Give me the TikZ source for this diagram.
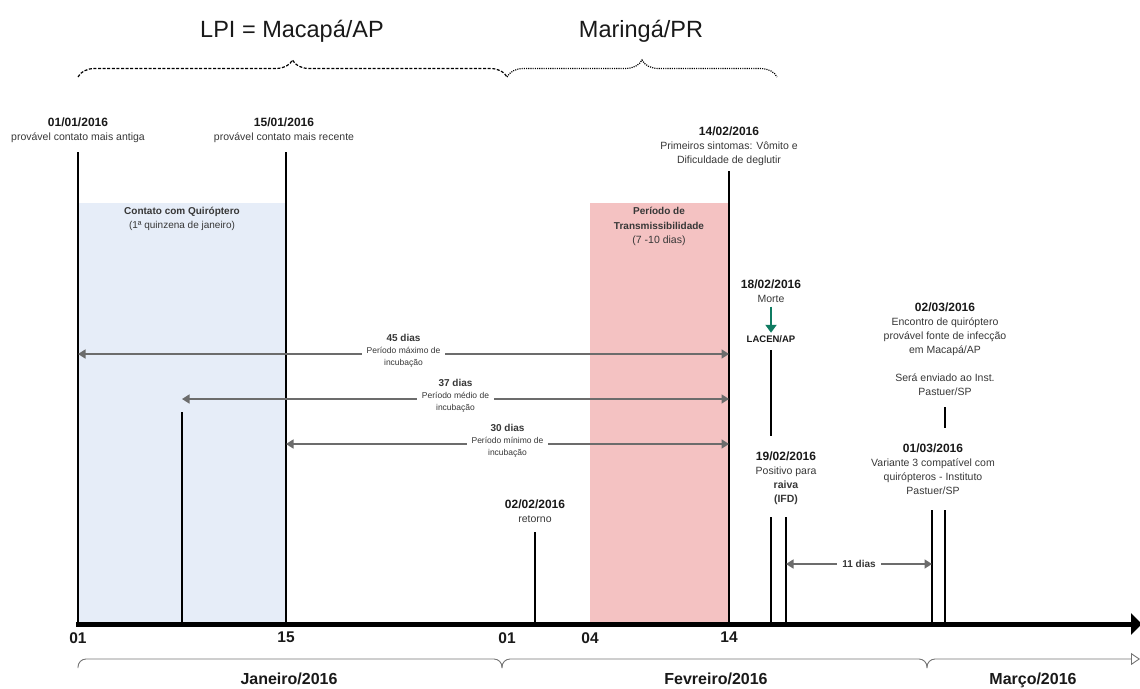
\documentclass[tikz,border=0pt]{standalone}
\usepackage{fontspec}
\setmainfont{Liberation Sans}
\usepackage{xcolor}
\usepackage{tikz}
\usetikzlibrary{arrows.meta, positioning, calc, decorations.pathreplacing}
\definecolor{myblue}{RGB}{230,237,248}
\definecolor{mypink}{RGB}{244,194,194}
\definecolor{mygray}{RGB}{108,108,108}
\definecolor{mygreen}{RGB}{15,123,97}
\definecolor{mytext}{RGB}{55,55,55}
\newcommand{\evdate}[1]{{\fontsize{12}{14}\selectfont\bfseries\color{black!90}#1}}

\begin{document}
\begin{tikzpicture}[x=1pt, y=-1pt,
  evt/.style={align=center, inner sep=0pt, text=mytext, font=\fontsize{10.5}{14}\selectfont},
  vline/.style={line width=1.6pt, black},
  spanarrow/.style={mygray, line width=1.6pt, {Triangle[length=7.5pt,width=9pt]}-{Triangle[length=7.5pt,width=9pt]}},
  spanlbl/.style={fill=white, align=center, inner xsep=5pt, inner ysep=1pt, text=mytext, font=\fontsize{8.5}{12}\selectfont},
  axislbl/.style={anchor=north, inner sep=0pt, text=black!90, font=\fontsize{15.5}{16}\selectfont\bfseries},
  monthlbl/.style={anchor=base, inner sep=0pt, text=black!90, font=\fontsize{16}{18}\selectfont\bfseries},
  monthline/.style={draw=black!55, line width=0.9pt, rounded corners=8pt},
  placelbl/.style={anchor=base, inner sep=0pt, text=black!90, font=\fontsize{23.5}{26}\selectfont},
  placebrace/.style={line width=1.2pt, decorate, decoration={brace, amplitude=17pt}},
]
  \useasboundingbox (0,0) rectangle (1140,688);

  % periods
  \fill[myblue] (78,203) rectangle (286,624);
  \fill[mypink] (590,203) rectangle (729,624);

  % points on the axis
  \coordinate (ax0101) at (78,622);
  \coordinate (ax0801) at (182,622);
  \coordinate (ax1501) at (286,622);
  \coordinate (ax0202) at (535,622);
  \coordinate (ax1402) at (729,622);
  \coordinate (ax1802) at (771,622);
  \coordinate (ax1902) at (786,622);
  \coordinate (ax0103) at (932,622);
  \coordinate (ax0203) at (945,622);
  \coordinate (axend) at (1142,624);

  % event lines
  \draw[vline] (78,152) -- (ax0101);
  \draw[vline] (286,152) -- (ax1501);
  \draw[vline] (182,412) -- (ax0801);
  \draw[vline] (535,532) -- (ax0202);
  \draw[vline] (729,171) -- (ax1402);
  \draw[vline] (771,350) -- (771,436);
  \draw[vline] (771,517) -- (ax1802);
  \draw[vline] (786,517) -- (ax1902);
  \draw[vline] (945,407) -- (945,428);
  \draw[vline] (932,510) -- (ax0103);
  \draw[vline] (945,510) -- (ax0203);

  % places
  \node[placelbl] (lpi) at (292,37) {LPI = Macapá/AP};
  \node[placelbl] (mga) at (641,37) {Maringá/PR};
  \draw[placebrace, dash pattern=on 3pt off 1.6pt] (78,77) -- (507,77);
  \draw[placebrace, dash pattern=on 1.1pt off 1.1pt] (507,77) -- (777,77);

  % events
  \node[evt, anchor=north] (t0101) at (78,118) {\evdate{01/01/2016}\\provável contato mais antiga};
  \node[evt, anchor=north] (t1501) at (284,118) {\evdate{15/01/2016}\\provável contato mais recente};
  \node[evt, anchor=north] (t1402) at (729,127) {\evdate{14/02/2016}\\Primeiros sintomas: Vômito e\\Dificuldade de deglutir};
  \node[evt, anchor=north] (t1802) at (771,280) {\evdate{18/02/2016}\\Morte};
  \node[inner sep=0pt, text=black!90, font=\fontsize{9.5}{11}\selectfont\bfseries] (lacen) at (771,339) {LACEN/AP};
  \node[evt, anchor=north] (t0203) at (945,303) {\evdate{02/03/2016}\\Encontro de quiróptero\\provável fonte de infecção\\em Macapá/AP\\[14pt]Será enviado ao Inst.\\Pastuer/SP};
  \node[evt, anchor=north] (t1902) at (786,452) {\evdate{19/02/2016}\\Positivo para\\\textbf{raiva}\\\textbf{(IFD)}};
  \node[evt, anchor=north] (t0103) at (933,444) {\evdate{01/03/2016}\\Variante 3 compatível com\\quirópteros - Instituto\\Pastuer/SP};
  \node[evt, anchor=north] (t0202) at (535,500) {\evdate{02/02/2016}\\retorno};
  \draw[mygreen, line width=2pt, -{Triangle[length=8pt,width=11pt]}] ([yshift=-3.5pt]t1802.south) -- ([yshift=2.5pt]lacen.north);

  % periods labels
  \node[evt, anchor=north, font=\fontsize{10}{14}\selectfont] (contato) at (182,207) {\textbf{Contato com Quiróptero}\\(1ª quinzena de janeiro)};
  \node[evt, anchor=north, font=\fontsize{10}{14.5}\selectfont] (transm) at (659,207) {\textbf{Período de}\\\textbf{Transmissibilidade}\\{\fontsize{10.5}{14.5}\selectfont(7 -10 dias)}};

  % incubation
  \coordinate (s45a) at (78,354);  \coordinate (s45b) at (729,354);
  \coordinate (s37a) at (182,399); \coordinate (s37b) at (729,399);
  \coordinate (s30a) at (286,444); \coordinate (s30b) at (729,444);
  \coordinate (s11a) at (786,564); \coordinate (s11b) at (932,564);
  \draw[spanarrow] (s45a) -- node[spanlbl, yshift=3pt] (l45) {{\fontsize{10}{12}\selectfont\bfseries 45 dias}\\Período máximo de\\incubação} (s45b);
  \draw[spanarrow] (s37a) -- node[spanlbl, yshift=3pt] (l37) {{\fontsize{10}{12}\selectfont\bfseries 37 dias}\\Período médio de\\incubação} (s37b);
  \draw[spanarrow] (s30a) -- node[spanlbl, yshift=3pt] (l30) {{\fontsize{10}{12}\selectfont\bfseries 30 dias}\\Período mínimo de\\incubação} (s30b);
  \draw[spanarrow] (s11a) -- node[spanlbl, font=\fontsize{10}{12}\selectfont\bfseries] (l11) {11 dias} (s11b);

  % axis
  \draw[line width=5pt, -{Triangle[length=11pt,width=21pt]}] (76,624) -- (axend);
  \node[axislbl] (d01) at (78,632) {01};
  \node[axislbl] (d15) at (286,632) {15};
  \node[axislbl] (d01b) at (507,632) {01};
  \node[axislbl] (d04) at (590,632) {04};
  \node[axislbl] (d14) at (729,632) {14};

  % months
  \draw[monthline] (78,668) -- (78,659) -- (502,659) -- (502,668);
  \draw[monthline] (502,668) -- (502,659) -- (927,659) -- (927,668);
  \draw[monthline, -{Triangle[open, length=9pt, width=12pt]}] (927,668) -- (927,659) -- (1140,659);
  \node[monthlbl] (jan) at (289,684) {Janeiro/2016};
  \node[monthlbl] (fev) at (716,684) {Fevreiro/2016};
  \node[monthlbl] (mar) at (1033,684) {Março/2016};
\end{tikzpicture}
\end{document}
